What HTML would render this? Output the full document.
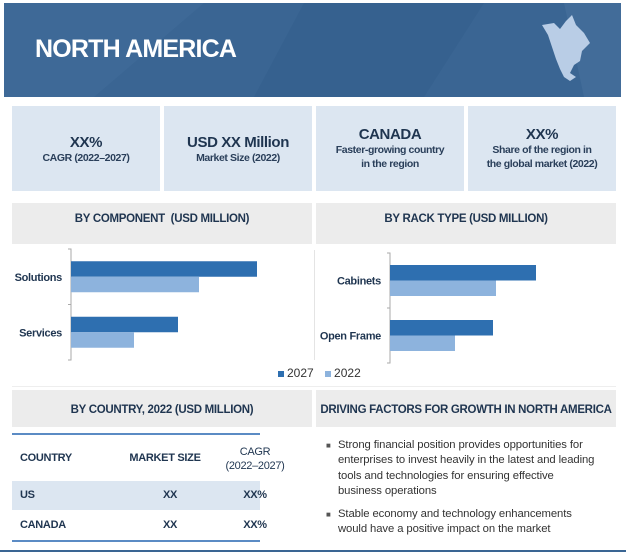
<!DOCTYPE html>
<html><head><meta charset="utf-8"><style>
*{margin:0;padding:0;box-sizing:border-box}
body{width:626px;height:556px;background:#fff;font-family:"Liberation Sans",sans-serif;position:relative;overflow:hidden;color:#1f3a5c}
.abs{position:absolute}
.kpi{position:absolute;top:106px;width:148px;height:85px;background:#dce6f1;text-align:center;letter-spacing:-0.4px}
.kpi b{display:block;font-size:15px;margin-top:28px;color:#1f3550}
.kpi span{display:block;font-size:10.5px;font-weight:bold;line-height:14px;color:#2a3f5a}
.hd{position:absolute;background:#ececec;font-size:11.5px;font-weight:bold;text-align:center;letter-spacing:-0.3px;color:#1f3550}
.lbl{position:absolute;font-size:11px;font-weight:bold;color:#1f3550;letter-spacing:-0.3px}
.tc{position:absolute;font-size:11px;font-weight:bold;color:#1f3550;letter-spacing:-0.3px;text-align:center}
.bl{position:absolute;left:338px;font-size:11.3px;line-height:15.3px;color:#333;white-space:nowrap;letter-spacing:-0.1px}
</style></head><body>
<div class="abs" style="left:4px;top:3px;width:617px;height:94px;background:#3a6593;overflow:hidden">
<svg width="617" height="94" style="position:absolute;left:0;top:0">
<polygon points="0,0 200,0 90,94 0,94" fill="#416c99" opacity="0.6"/>
<polygon points="300,0 480,0 420,94 250,94" fill="#35608d" opacity="0.7"/>
<polygon points="560,0 617,0 617,94 580,94" fill="#4a74a0" opacity="0.5"/>
<path d="M538 22 L550 20 L556 26 L562 18 L568 12 L572 22 L580 30 L586 40 L578 48 L576 58 L570 62 L566 70 L572 74 L566 78 L560 74 L556 66 L552 56 L548 44 L544 32 Z" fill="#b9cde6"/>
</svg>
<div class="abs" style="left:31px;top:32px;font-size:25px;font-weight:bold;color:#fff;letter-spacing:-0.8px">NORTH AMERICA</div>
</div>
<div class="kpi" style="left:12px"><b>XX%</b><span>CAGR (2022–2027)</span></div>
<div class="kpi" style="left:164px"><b>USD XX Million</b><span>Market Size (2022)</span></div>
<div class="kpi" style="left:316px"><b style="margin-top:20px">CANADA</b><span>Faster-growing country<br>in the region</span></div>
<div class="kpi" style="left:468px"><b style="margin-top:20px">XX%</b><span>Share of the region in<br>the global market (2022)</span></div>

<div class="hd" style="left:12px;top:203px;width:300px;height:41px;line-height:33px">BY COMPONENT &nbsp;(USD MILLION)</div>
<div class="hd" style="left:316px;top:203px;width:300px;height:41px;line-height:33px">BY RACK TYPE (USD MILLION)</div>

<svg id="charts" class="abs" style="left:0;top:0" width="626" height="390"></svg>
<div class="abs" style="left:314px;top:250px;width:1px;height:110px;background:#e4e4e4"></div>

<div class="abs" style="left:278px;top:366px;font-size:12px;color:#333">
<span><span style="display:inline-block;width:6px;height:6px;background:#2e6fb0;margin-right:3px"></span>2027</span>
<span style="margin-left:8px"><span style="display:inline-block;width:6px;height:6px;background:#8db3dd;margin-right:3px"></span>2022</span>
</div>
<div class="abs" style="left:12px;top:386px;width:604px;height:1px;background:#eee"></div>

<div class="hd" style="left:12px;top:390px;width:300px;height:37px;line-height:40px">BY COUNTRY, 2022 (USD MILLION)</div>
<div class="hd" style="left:316px;top:390px;width:300px;height:37px;line-height:40px">DRIVING FACTORS FOR GROWTH IN NORTH AMERICA</div>

<div>
<div class="abs" style="left:12px;top:433px;width:248px;height:2px;background:#5b8bc4"></div>
<div class="lbl" style="left:20px;top:452px">COUNTRY</div>
<div class="tc" style="left:110px;top:452px;width:110px">MARKET SIZE</div>
<div class="tc" style="left:215px;top:445px;width:80px;font-weight:normal;line-height:14px">CAGR<br>(2022–2027)</div>
<div class="abs" style="left:12px;top:481px;width:248px;height:29px;background:#dce6f1"></div>
<div class="lbl" style="left:20px;top:489px">US</div>
<div class="tc" style="left:110px;top:489px;width:120px">XX</div>
<div class="tc" style="left:220px;top:489px;width:70px">XX%</div>
<div class="lbl" style="left:20px;top:519px">CANADA</div>
<div class="tc" style="left:110px;top:519px;width:120px">XX</div>
<div class="tc" style="left:220px;top:519px;width:70px">XX%</div>
<div class="abs" style="left:12px;top:540px;width:248px;height:2px;background:#5b8bc4"></div>
</div>

<div class="abs" style="left:326px;top:441px;font-size:8px;color:#555">■</div>
<div class="bl" style="top:438px">Strong financial position provides opportunities for<br>enterprises to invest heavily in the latest and leading<br>tools and technologies for ensuring effective<br>business operations</div>
<div class="abs" style="left:326px;top:510px;font-size:8px;color:#555">■</div>
<div class="bl" style="top:507px">Stable economy and technology enhancements<br>would have a positive impact on the market</div>
<div class="abs" style="left:0;top:550px;width:626px;height:2px;background:#3a6593"></div>

<script>
const compCats=["Solutions","Services"];
const comp2027=[93,53.5];
const comp2022=[64,31.5];
const rackCats=["Cabinets","Open Frame"];
const rack2027=[73,51.5];
const rack2022=[53,32.5];
const NS="http://www.w3.org/2000/svg";
const svg=document.getElementById('charts');
function mk(t,a){const e=document.createElementNS(NS,t);for(const k in a)e.setAttribute(k,a[k]);svg.appendChild(e);return e;}
function chart(x0,yTop,yBot,cats,s1,s2,prefix){
  const scale=v=>v*2;
  const band=(yBot-yTop)/cats.length;
  const ax=mk('path',{d:`M${x0-3} ${yTop} H${x0} V${yBot} H${x0-3} M${x0-3} ${yTop+band} H${x0}`,stroke:'#aaa',fill:'none','stroke-width':1});
  
  
  cats.forEach((c,i)=>{
    const yc=yTop+band*i+band/2;
    const b1=mk('rect',{x:x0,y:yc-15.5,width:scale(s1[i]),height:15.5,fill:'#2e6fb0'});
    
    
    const b2=mk('rect',{x:x0,y:yc,width:scale(s2[i]),height:15.5,fill:'#8db3dd'});
    
    
    const t=mk('text',{x:x0-9,y:yc+4,'text-anchor':'end','font-size':'11','font-weight':'bold',fill:'#1f3550','font-family':'Liberation Sans, sans-serif','letter-spacing':'-0.3'});
    t.textContent=c;
    
    
  });
}
chart(71,249,360,compCats,comp2027,comp2022,'component');
chart(390,253,363,rackCats,rack2027,rack2022,'rack');
</script>
</body></html>
